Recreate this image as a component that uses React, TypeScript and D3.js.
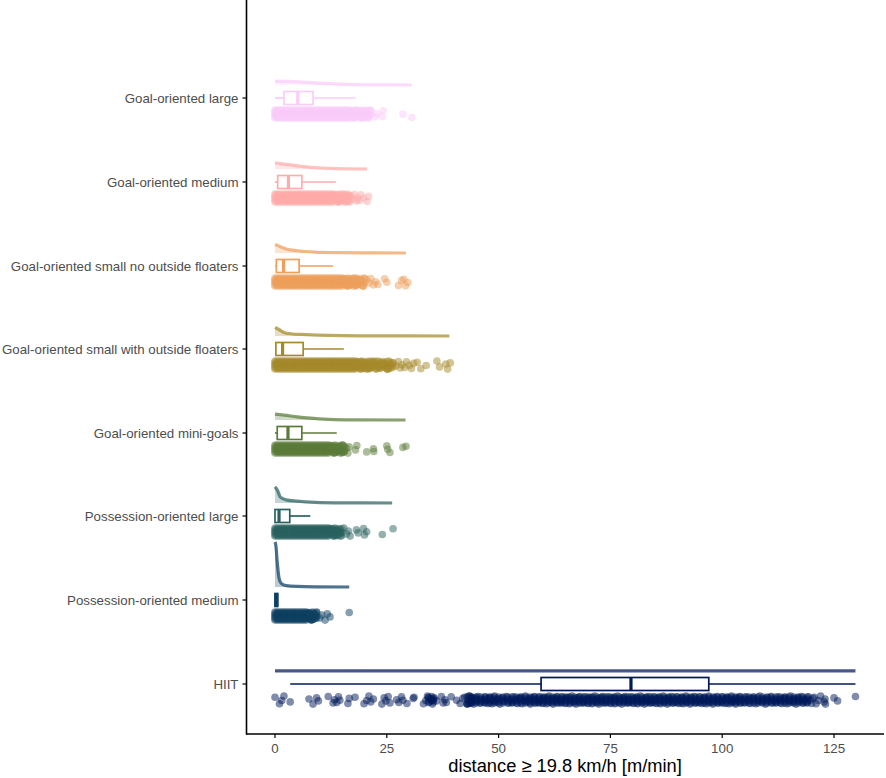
import React from "react";
import * as d3 from "d3";

const categories = ["Goal-oriented large","Goal-oriented medium","Goal-oriented small no outside floaters","Goal-oriented small with outside floaters","Goal-oriented mini-goals","Possession-oriented large","Possession-oriented medium","HIIT"];
const colors = ["#F9CCF9","#FFACAA","#EE9F5C","#A58A2A","#5B7B3A","#2A6160","#0D3F61","#001959"];
const xTicks = [0,25,50,75,100,125];

const q1 = [2,0.6,0.3,0.2,0.5,0,0,59.5];
const median = [5.1,3,1.9,1.7,2.9,0.9,0.3,79.6];
const q3 = [8.5,6,5.4,6.3,6,3.3,0.6,97];
const whiskerLow = [0,0,0,0,0,0,0,3.4];
const whiskerHigh = [18,13.6,13,15.4,13.8,7.9,0.6,129.8];

const densLarge: [number,number][] = [[0,.085],[3,.08],[6,.065],[10,.04],[14,.02],[18,.008],[24,.002],[30.6,0]];
const densMedium: [number,number][] = [[0,.135],[2,.11],[5,.07],[8,.035],[12,.012],[16,.003],[20.6,0]];
const densNoOut: [number,number][] = [[0,.19],[1,.15],[2.5,.09],[5,.05],[9,.02],[14,.008],[20,.002],[29.3,0]];
const densWith: [number,number][] = [[0,.19],[.8,.15],[2,.08],[3.5,.05],[7,.03],[12,.012],[20,.004],[30,.001],[39,0]];
const densMini: [number,number][] = [[0,.13],[2,.11],[5,.07],[8,.04],[12,.015],[17,.004],[29.2,0]];
const densPosLarge: [number,number][] = [[0,.36],[.6,.27],[1.2,.13],[2.5,.07],[5,.04],[9,.015],[15,.004],[26.2,0]];
const densPosMedium: [number,number][] = [[0,1],[.2,.92],[.5,.55],[.9,.2],[1.4,.08],[2.5,.03],[5,.012],[9,.004],[16.6,0]];
const densHiit: [number,number][] = [[0,.002],[40,.003],[80,.004],[120,.003],[129.8,.002]];
const densities = [densLarge,densMedium,densNoOut,densWith,densMini,densPosLarge,densPosMedium,densHiit];

const solidLarge = [0,.5,1,1.5,2,2.5,3,3.5,4,4.5,5,5.5,6,6.5,7,7.5,8,8.5,9,9.5,10,10.5,11,11.5,12,12.5,13,13.5,14,14.5,15,15.5,16,16.5];
const solidMedium = [0,.5,1,1.5,2,2.5,3,3.5,4,4.5,5,5.5,6,6.5,7,7.5,8,8.5,9,9.5,10,10.5,11,11.5,12,12.5,13];
const solidNoOut = [0,.5,1,1.5,2,2.5,3,3.5,4,4.5,5,5.5,6,6.5,7,7.5,8,8.5,9,9.5,10,10.5,11,11.5,12,12.5,13,13.5,14,14.5,15];
const solidWith = [0,.5,1,1.5,2,2.5,3,3.5,4,4.5,5,5.5,6,6.5,7,7.5,8,8.5,9,9.5,10,10.5,11,11.5,12,12.5,13,13.5,14,14.5,15,15.5,16,16.5,17,17.5,18];
const solidMini = [0,.5,1,1.5,2,2.5,3,3.5,4,4.5,5,5.5,6,6.5,7,7.5,8,8.5,9,9.5,10,10.5,11,11.5,12];
const solidPosLarge = [0,.5,1,1.5,2,2.5,3,3.5,4,4.5,5,5.5,6,6.5,7,7.5,8,8.5,9,9.5,10,10.5,11,11.5,12];
const solidPosMedium = [0,.5,1,1.5,2,2.5,3,3.5,4,4.5,5,5.5,6,6.5,7];
const solidHiit = [44,45,46,47,48,49,50,51,52,53,54,55,56,57,58,59,60,61,62,63,64,65,66,67,68,69,70,71,72,73,74,75,76,77,78,79,80,81,82,83,84,85,86,87,88,89,90,91,92,93,94,95,96,97,98,99,100,101,102,103,104,105,106,107,108,109,110,111,112,113,114,115,116,117,118,119];
const solids = [solidLarge,solidMedium,solidNoOut,solidWith,solidMini,solidPosLarge,solidPosMedium,solidHiit];

const midLarge = [16.7,17,17.3,17.6,17.9,18.2,18.5,18.8,19.1,19.4,19.7,20,20.3,20.6,20.9,21.2];
const midMedium = [13.2,13.5,13.8,14.1,14.4,14.7,15,15.3,15.6,15.9,16.2,16.6];
const midNoOut = [15.2,15.5,15.8,16.1,16.4,16.7,17,17.3,17.6,17.9,18.2,18.5,18.8,19.2,19.6,20];
const midWith = [18.2,18.5,18.8,19.1,19.4,19.7,20,20.3,20.6,20.9,21.2,21.5,21.8,22.2,22.6,23,23.4,23.8,24.2,24.6,25,25.4,25.8,26.3];
const midMini = [12.2,12.5,12.8,13.1,13.4,13.7,14,14.3,14.6,14.9,15.2,15.5];
const midPosLarge = [12.2,12.5,12.8,13.1,13.4,13.7,14,14.3,14.6,14.9];
const midPosMedium = [7.2,7.5,7.8,8.1,8.4,8.7,9,9.3];
const midHiit = [34.3,35,35.4,43,43.4,43.8];
const mids = [midLarge,midMedium,midNoOut,midWith,midMini,midPosLarge,midPosMedium,midHiit];

const tailLarge = [16.6,17.2,17.8,18.3,18.9,19.4,20,20.5,21.2,21.5,22.4,22.8,24,24.2,28.6,30.6];
const tailMedium = [13.7,14.2,14.7,15.2,15.8,16.3,16.7,17,17.3,17.8,18.2,18.5,18.8,19.2,19.8,20.6,20.9];
const tailNoOut = [15.8,16.5,17,17.6,18.3,19,19.8,20.5,21,21.4,22,22.5,23,24.5,25,27.6,28.3,28.8,29.2,29.7];
const tailWith = [19.2,20.1,21,22,23,24.2,25.3,26.4,27,27.6,28,28.4,29,29.4,30,30.5,31,31.8,32.6,33.8,36.2,36.8,38.2,38.6,39.2];
const tailMini = [12.8,13.5,14.2,15,15.6,16,16.3,16.6,18,18.3,20.5,22,22.1,25,25.2,25.7,28.6,29.3];
const tailPosLarge = [12.8,13.8,14.6,15.4,16,16.4,16.8,18.2,18.6,19.8,20,20.5,24,26.4];
const tailPosMedium = [7.5,8.2,8.8,9.3,10,10.5,11.2,11.7,12.3,16.6];
const tailHiit = [0,1,1.5,2,3.4,7.6,8.5,9.3,9.7,11.9,13,13.3,13.8,14.2,14.5,16.3,16.6,17.9,19.9,20.5,21,21.4,22,23.9,24.4,24.8,25.3,25.7,27.2,27.7,28.3,28.6,29.5,30.9,31.1,33.2,33.7,34.1,34.5,34.8,35.2,35.6,36.1,37.2,37.6,38,38.3,39.4,40.6,41.4,42,42.4,42.9,43.2,43.5,43.8,44.1,44.4,44.7,45,45.4,45.8,46.3,46.7,47,47.3,47.6,47.9,48.2,48.5,48.8,49.1,49.4,49.8,50.3,50.7,51.2,51.8,52.3,52.7,53,53.4,53.8,54.2,54.6,54.9,55.3,55.7,56,56.5,56.8,57.1,57.4,57.7,58,58.3,58.6,58.9,59.2,59.5,59.8,60.1,60.4,60.7,61,61.3,61.6,61.9,62.2,62.5,62.8,63.1,63.4,63.7,64,64.3,64.6,64.9,65.2,65.5,65.8,66.1,66.4,66.7,67,67.3,67.6,67.9,68.2,68.5,68.8,69.1,69.4,69.7,70,70.3,70.6,70.9,71.2,71.5,71.8,72.1,72.4,72.7,73,73.3,73.6,73.9,74.2,74.5,74.8,75.1,75.4,75.7,76,76.3,76.6,76.9,77.2,77.5,77.8,78.1,78.4,78.7,79,79.3,79.6,79.9,80.2,80.5,80.8,81.1,81.4,81.7,82,82.3,82.6,82.9,83.2,83.5,83.8,84.1,84.4,84.7,85,85.3,85.6,85.9,86.2,86.5,86.8,87.1,87.4,87.7,88,88.3,88.6,88.9,89.2,89.5,89.8,90.1,90.4,90.7,91,91.3,91.6,91.9,92.2,92.5,92.8,93.1,93.4,93.7,94,94.3,94.6,94.9,95.2,95.5,95.8,96.1,96.4,96.7,97,97.3,97.6,97.9,98.2,98.5,98.8,99.1,99.4,99.7,100,100.3,100.6,100.9,101.2,101.5,101.8,102.1,102.4,102.7,103,103.3,103.6,103.9,104.2,104.6,105,105.4,105.8,106.2,106.6,107,107.5,108,108.4,108.8,109.3,109.7,110.1,110.5,110.9,111.3,111.7,112.1,112.5,112.9,113.3,113.7,114.1,114.5,114.9,115.3,115.7,116.1,116.5,116.9,117.3,117.7,118.1,118.5,118.9,119.3,119.7,120,120.3,120.6,121,121.5,122,122.8,123,123.1,125,125.8,129.8];
const tails = [tailLarge,tailMedium,tailNoOut,tailWith,tailMini,tailPosLarge,tailPosMedium,tailHiit];

const tickY = [98,182,266,349,433,516,600,684];

const SOLID_ROWS = [-4,-2.4,-.8,.8,2.4,4];
const CORE_ROWS = [-3,-1,1,3];
const JITTER = [-2.7,3.8,.5,-4,1.9,-1,4.1,-2.1,.9,-3.5,2.9,-.3,2.5,-3.2,.2,3.5,-1.6];

const W = 886, H = 778;
const x = d3.scaleLinear().domain([0,125]).range([275,834]);
const densityY = d3.scaleLinear().domain([0,1]).range([0,45]);
const FONT = "'Liberation Sans', Arial, sans-serif";

export default function App() {
  return (
    <svg width={W} height={H} style={{position:"absolute",left:0,top:0,background:"#fff"}} fontFamily={FONT}>
      {categories.map((c,i)=>{
        const t = tickY[i], base = t-13, bandY = t+16, col = colors[i];
        const dens = densities[i];
        const area = d3.area<[number,number]>().x(d=>x(d[0])).y0(base).y1(d=>base-densityY(d[1])).curve(d3.curveMonotoneX);
        const line = d3.line<[number,number]>().x(d=>x(d[0])).y(d=>base-densityY(d[1])).curve(d3.curveMonotoneX);
        const pm = i===6;
        const rows = i===7 ? CORE_ROWS : SOLID_ROWS;
        const n = JITTER.length;
        return (
          <g key={c}>
            <path d={area(dens)!} fill={col} fillOpacity={0.28}/>
            <path d={line(dens)!} fill="none" stroke={col} strokeOpacity={0.72} strokeWidth={3.2}/>
            <line x1={x(whiskerLow[i])} x2={x(q1[i])} y1={t} y2={t} stroke={col} strokeWidth={1.7}/>
            <line x1={x(q3[i])} x2={x(whiskerHigh[i])} y1={t} y2={t} stroke={col} strokeWidth={1.7}/>
            <rect x={x(q1[i])} y={t-6.5} width={x(q3[i])-x(q1[i])} height={13} fill="#fff" stroke={col} strokeWidth={1.7}/>
            <line x1={x(median[i])} x2={x(median[i])} y1={t-6.5} y2={t+6.5} stroke={col} strokeWidth={pm?4:3.2}/>
            <g fill={col} fillOpacity={0.5}>
              {solids[i].flatMap((v,k)=>rows.map((r,m)=>(
                <circle key={`s${k}-${m}`} cx={x(v)} cy={bandY+r} r={3.8}/>
              )))}
              {mids[i].flatMap((v,k)=>[k*2,k*2+7,k*2+12].map((o,m)=>(
                <circle key={`m${k}-${m}`} cx={x(v)} cy={bandY+JITTER[o%n]} r={3.8}/>
              )))}
              {tails[i].map((v,k)=>(
                <circle key={`t${k}`} cx={x(v)} cy={bandY+JITTER[k%n]} r={3.8}/>
              ))}
            </g>
            <line x1={242.5} x2={246.5} y1={t} y2={t} stroke="#000" strokeWidth={1.2}/>
            <text x={238.5} y={t} dy="0.35em" textAnchor="end" fontSize={13.3} fill="#4d4d4d">{c}</text>
          </g>
        );
      })}
      <line x1={246.5} x2={246.5} y1={0} y2={734.5} stroke="#000" strokeWidth={1.6}/>
      <line x1={246} x2={884} y1={734} y2={734} stroke="#000" strokeWidth={1.6}/>
      {xTicks.map(v=>(
        <g key={v}>
          <line x1={x(v)} x2={x(v)} y1={734} y2={738} stroke="#000" strokeWidth={1.2}/>
          <text x={x(v)} y={748.5} dy="0.35em" textAnchor="middle" fontSize={13.3} fill="#4d4d4d">{v}</text>
        </g>
      ))}
      <text x={565} y={766} dy="0.35em" textAnchor="middle" fontSize={18.3} fill="#000">distance ≥ 19.8 km/h [m/min]</text>
    </svg>
  );
}
